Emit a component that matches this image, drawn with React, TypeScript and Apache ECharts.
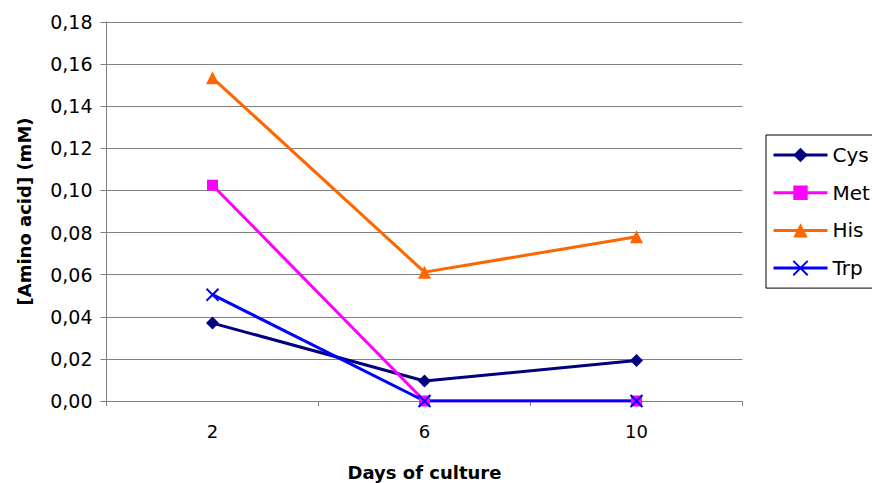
import React, { useEffect, useRef } from "react";
import * as echarts from "echarts";

const days = ["2", "6", "10"];
const cys = [0.037, 0.0095, 0.0192];
const met = [0.1025, 0, 0];
const his = [0.1535, 0.0612, 0.078];
const trp = [0.0505, 0, 0];

const FONT = "DejaVu Sans, Liberation Sans, Arial, sans-serif";
const X_PATH = "path://M0,0 L10,10 M10,0 L0,10";

export default function App() {
  const ref = useRef<HTMLDivElement>(null);
  useEffect(() => {
    if (!ref.current) return;
    const chart = echarts.init(ref.current, null, { renderer: "svg" });
    const mk = (name: string, data: number[], color: string, symbol: string, size: number, extra: any = {}) => ({
      name,
      type: "line",
      data,
      symbol,
      symbolSize: size,
      lineStyle: { color, width: 3 },
      itemStyle: { color, ...extra },
      emphasis: { disabled: true },
    });
    chart.setOption({
      animation: false,
      backgroundColor: "#ffffff",
      textStyle: { fontFamily: FONT },
      grid: { left: 106.5, right: 129.5, top: 22, bottom: 82, outerBoundsMode: "none", containLabel: false },
      legend: {
        orient: "vertical",
        left: 766,
        top: 135,
        borderColor: "#000",
        borderWidth: 1,
        padding: [10, 5, 10, 6],
        itemWidth: 54,
        itemHeight: 18,
        itemGap: 17.7,
        lineStyle: { width: 3 },
        textStyle: { fontFamily: FONT, fontSize: 20, color: "#000" },
        data: ["Cys", "Met", "His", "Trp"],
      },
      xAxis: {
        type: "category",
        data: days,
        boundaryGap: true,
        name: "Days of culture",
        nameLocation: "middle",
        nameGap: 62,
        nameTextStyle: { fontFamily: FONT, fontSize: 18, fontWeight: "bold", color: "#000" },
        axisLine: { lineStyle: { color: "#808080", width: 1 } },
        axisTick: { show: true, length: 5, lineStyle: { color: "#808080" } },
        axisLabel: { margin: 21, fontFamily: FONT, fontSize: 18, color: "#000" },
        splitLine: { show: false },
      },
      yAxis: {
        type: "value",
        min: 0,
        max: 0.18,
        interval: 0.02,
        name: "[Amino acid] (mM)",
        nameLocation: "middle",
        nameGap: 73,
        nameRotate: 90,
        nameTextStyle: { fontFamily: FONT, fontSize: 18, fontWeight: "bold", color: "#000" },
        axisLine: { show: true, lineStyle: { color: "#808080", width: 1 } },
        axisTick: { show: true, length: 6, lineStyle: { color: "#808080" } },
        axisLabel: {
          margin: 14,
          fontFamily: FONT,
          fontSize: 19,
          color: "#000",
          formatter: (v: number) => v.toFixed(2).replace(".", ","),
        },
        splitLine: { show: true, lineStyle: { color: "#808080", width: 1 } },
      },
      series: [
        mk("Cys", cys, "#000080", "diamond", 13),
        mk("Met", met, "#FF00FF", "rect", 11),
        mk("His", his, "#FF6600", "triangle", 13),
        mk("Trp", trp, "#0000FF", X_PATH, 12, { borderColor: "#0000FF", borderWidth: 2 }),
      ],
    });
    return () => chart.dispose();
  }, []);
  return <div ref={ref} style={{ width: 872, height: 483, position: "absolute", left: 0, top: 0 }} />;
}
